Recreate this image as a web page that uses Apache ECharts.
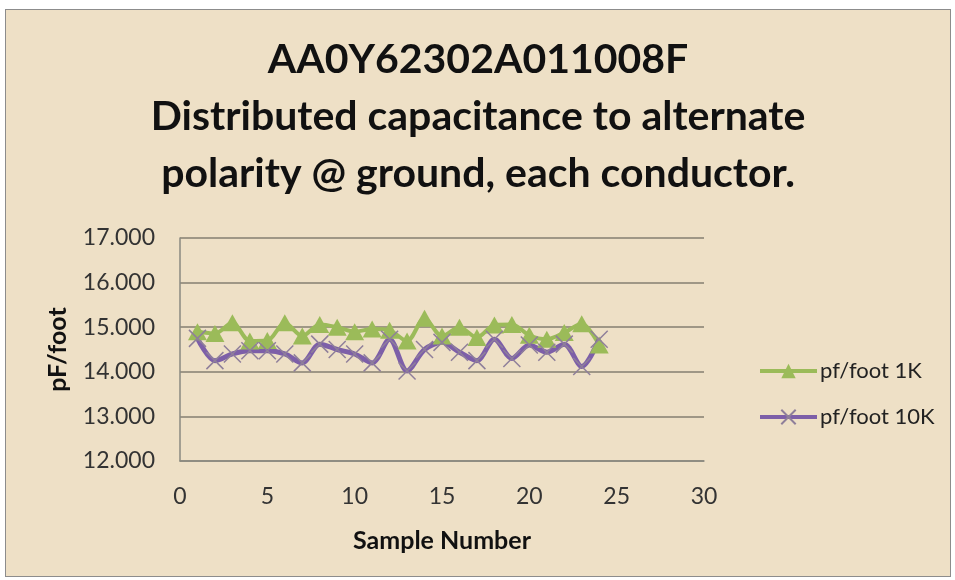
<!DOCTYPE html>
<html>
<head>
<meta charset="utf-8">
<script src="https://cdn.jsdelivr.net/npm/echarts@6/dist/echarts.min.js"></script>
<style>
html, body { margin: 0; padding: 0; background: #ffffff; }
#frame { position: absolute; left: 5px; top: 9px; width: 944px; height: 566px; border: 1px solid #8c8c8c; background: #eee0c6; }
#main { width: 944px; height: 566px; }
</style>
</head>
<body>
<div id="frame"><div id="main"></div></div>
<script>
// sample numbers and measured values
var samples = [1, 2, 3, 4, 5, 6, 7, 8, 9, 10, 11, 12, 13, 14, 15, 16, 17, 18, 19, 20, 21, 22, 23, 24];
var pf1k = [14.90, 14.86, 15.10, 14.69, 14.70, 15.10, 14.80, 15.06, 15.00, 14.90, 14.96, 14.93, 14.69, 15.20, 14.80, 15.00, 14.77, 15.05, 15.06, 14.82, 14.73, 14.88, 15.08, 14.60];
var pf10k = [14.75, 14.25, 14.40, 14.47, 14.47, 14.40, 14.20, 14.62, 14.50, 14.40, 14.20, 14.73, 14.02, 14.50, 14.66, 14.44, 14.25, 14.73, 14.30, 14.60, 14.44, 14.62, 14.12, 14.73];
var xTicks = [0, 5, 10, 15, 20, 25, 30];
var yTicks = [12, 13, 14, 15, 16, 17];

function pairs(xs, ys) {
	var out = [];
	for (var i = 0; i < xs.length; i++) {
		out.push([xs[i], ys[i]]);
	}
	return out;
}

var myChart = echarts.init(document.getElementById('main'));
var font = 'Lato, "Open Sans", sans-serif';
var crossPath = 'path://M0,0L10,10M10,0L0,10';

var option = {
	backgroundColor : 'transparent',
	animation : false,
	title : {
		text : 'AA0Y62302A011008F\nDistributed capacitance to alternate\npolarity @ ground, each conductor.',
		left : 'center',
		top : 16,
		textStyle : {
			fontFamily : font,
			fontWeight : 'bold',
			fontSize : 41,
			lineHeight : 57,
			color : '#111111'
		}
	},
	legend : {
		orient : 'vertical',
		left : 747,
		top : 345,
		itemGap : 24,
		itemWidth : 57,
		itemHeight : 18,
		lineStyle : { width : 4 },
		textStyle : {
			fontFamily : font,
			fontSize : 22,
			color : '#222222',
			padding : [0, 0, 0, -2]
		},
		data : [ 'pf/foot 1K', 'pf/foot 10K' ]
	},
	grid : {
		left : 174,
		right : 246,
		top : 228,
		bottom : 115
	},
	xAxis : {
		type : 'value',
		min : xTicks[0],
		max : xTicks[xTicks.length - 1],
		interval : 5,
		name : 'Sample Number',
		nameLocation : 'middle',
		nameGap : 67,
		nameTextStyle : {
			fontFamily : font,
			fontWeight : 'bold',
			fontSize : 25,
			color : '#111111'
		},
		axisLine : { lineStyle : { color : '#8a8a80', width : 1.5 } },
		axisTick : { show : false },
		splitLine : { show : false },
		axisLabel : {
			fontFamily : font,
			fontSize : 23,
			color : '#333333',
			margin : 24
		}
	},
	yAxis : {
		type : 'value',
		min : yTicks[0],
		max : yTicks[yTicks.length - 1],
		interval : 1,
		name : 'pF/foot',
		nameLocation : 'middle',
		nameGap : 110,
		nameTextStyle : {
			fontFamily : font,
			fontWeight : 'bold',
			fontSize : 25,
			color : '#111111'
		},
		axisLine : { show : true, lineStyle : { color : '#8a8a80', width : 1.5 } },
		axisTick : { show : false },
		splitLine : { lineStyle : { color : '#857f70', width : 1.5 } },
		axisLabel : {
			fontFamily : font,
			fontSize : 23,
			color : '#333333',
			margin : 25,
			formatter : function(v) {
				return v.toFixed(3);
			}
		}
	},
	series : [ {
		name : 'pf/foot 1K',
		type : 'line',
		data : pairs(samples, pf1k),
		symbol : 'triangle',
		symbolSize : [19, 17],
		smooth : 0.3,
		itemStyle : { color : '#9bbb59' },
		lineStyle : { color : '#9bbb59', width : 4 }
	}, {
		name : 'pf/foot 10K',
		type : 'line',
		data : pairs(samples, pf10k),
		symbol : crossPath,
		symbolSize : 17,
		smooth : 0.3,
		itemStyle : { color : 'rgba(0,0,0,0)', borderColor : '#8f7f9a', borderWidth : 1.5 },
		lineStyle : { color : '#7d5fa8', width : 5 }
	} ]
};
myChart.setOption(option);
</script>
</body>
</html>
